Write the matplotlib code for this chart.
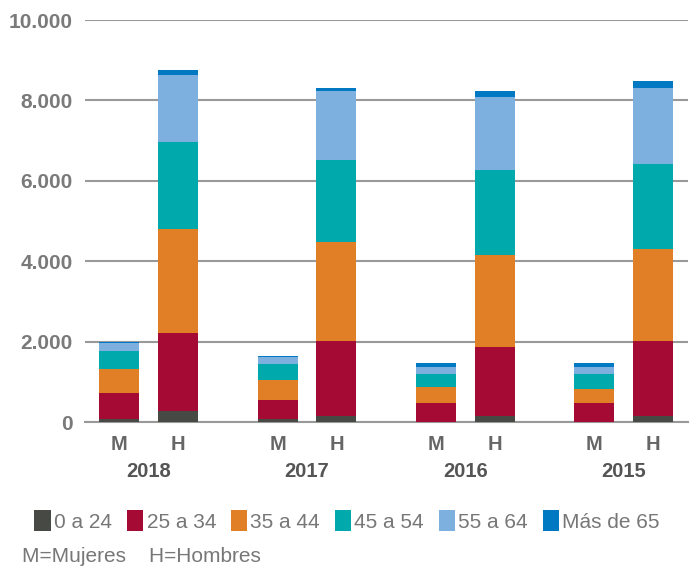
import matplotlib.pyplot as plt
import numpy as np

# años y sexos
years = ["2018", "2017", "2016", "2015"]
sexes = ["M", "H"]
age_groups = ["0 a 24", "25 a 34", "35 a 44", "45 a 54", "55 a 64", "Más de 65"]
colors = ["#474a44", "#a50a35", "#e07f26", "#00a9ac", "#7eb0df", "#0079c2"]

# valores por tramo de edad, orden: M2018, H2018, M2017, H2017, M2016, H2016, M2015, H2015
edad_0_24 = [75, 280, 65, 150, 10, 150, 10, 150]
edad_25_34 = [645, 1935, 490, 1875, 470, 1710, 470, 1865]
edad_35_44 = [600, 2585, 490, 2455, 400, 2295, 335, 2295]
edad_45_54 = [445, 2165, 400, 2040, 315, 2125, 380, 2105]
edad_55_64 = [210, 1665, 175, 1715, 180, 1800, 180, 1905]
edad_65 = [20, 125, 15, 85, 85, 155, 85, 160]
series = [edad_0_24, edad_25_34, edad_35_44, edad_45_54, edad_55_64, edad_65]

fig = plt.figure(figsize=(6.95, 5.71), dpi=100)
ax = fig.add_axes([85 / 695, 149 / 571, 603 / 695, 402 / 571])

gap = 2.69
x = []
for i in range(len(years)):
    x += [i * gap, i * gap + 1]
x = np.array(x)

bottom = np.zeros(len(x))
for vals, c, lab in zip(series, colors, age_groups):
    ax.bar(x, vals, bottom=bottom, width=0.68, color=c, label=lab, zorder=3)
    bottom += np.array(vals)

ax.set_ylim(0, 10000)
ax.set_xlim(-0.58, 3 * gap + 1 + 0.59)
ax.set_yticks(range(0, 10001, 2000))
ax.set_yticklabels(["0", "2.000", "4.000", "6.000", "8.000", "10.000"])
ax.yaxis.grid(True, color="#999999", linewidth=1.5, zorder=0)
for s in ["top", "right", "left"]:
    ax.spines[s].set_visible(False)
ax.spines["bottom"].set_color("#999999")
ax.spines["bottom"].set_linewidth(1.5)
ax.tick_params(axis="y", length=0, pad=9, labelsize=15, labelcolor="#7a7a7a")
for t in ax.get_yticklabels():
    t.set_fontweight("bold")
    t.set_fontfamily("Liberation Sans")

ax.set_xticks(x)
ax.set_xticklabels(sexes * len(years))
ax.tick_params(axis="x", length=0, pad=9, labelsize=14.5, labelcolor="#666666")
for t in ax.get_xticklabels():
    t.set_fontweight("bold")
    t.set_fontfamily("Liberation Sans")

for i, yr in enumerate(years):
    ax.text(i * gap + 0.5, -1220, yr, ha="center", va="center", fontsize=14.5,
            fontweight="bold", color="#555555", family="Liberation Sans")

leg = ax.legend(loc="upper left", bbox_to_anchor=(-0.115, -0.172), ncol=6, frameon=False,
                handlelength=0.8, handleheight=1.2, handletextpad=0.15, columnspacing=0.7,
                prop={"family": "Liberation Sans", "size": 15})
for t in leg.get_texts():
    t.set_color("#777777")

fig.text(22 / 695, 1 - 556 / 571, "M=Mujeres    H=Hombres", ha="left", va="center",
         fontsize=15, color="#777777", family="Liberation Sans")

fig.savefig("out.png", dpi=100)
